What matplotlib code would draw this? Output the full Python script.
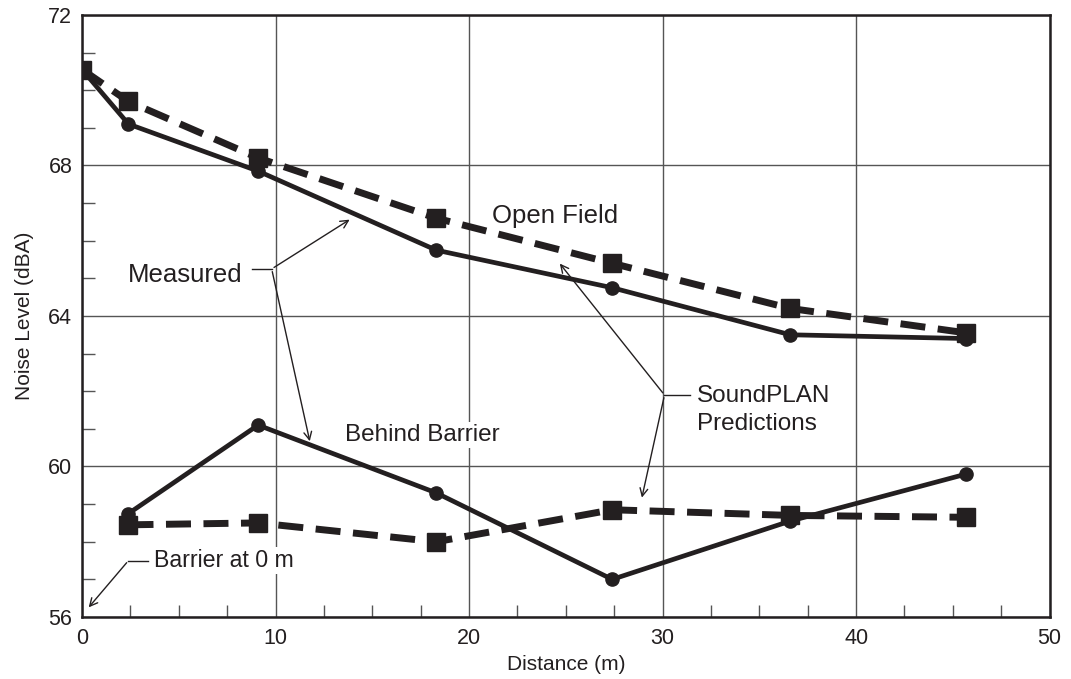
import matplotlib
matplotlib.use("Agg")
import matplotlib.pyplot as plt
from matplotlib.ticker import MultipleLocator

plt.rcParams['font.family'] = ['Liberation Sans', 'DejaVu Sans']

INK = '#231f20'

# Receiver distances (m) and noise levels (dBA)
distance = [0, 2.4, 9.1, 18.3, 27.4, 36.6, 45.7]
open_measured = [70.55, 69.1, 67.85, 65.75, 64.75, 63.5, 63.4]
open_predicted = [70.55, 69.7, 68.2, 66.6, 65.4, 64.2, 63.55]

barrier_distance = [2.4, 9.1, 18.3, 27.4, 36.6, 45.7]
barrier_measured = [58.75, 61.1, 59.3, 57.0, 58.55, 59.8]
barrier_predicted = [58.45, 58.5, 58.0, 58.85, 58.7, 58.65]

fig = plt.figure(figsize=(10.71, 6.79), dpi=100)
ax = fig.add_axes([0.0766, 0.0913, 0.9034, 0.8867])

solid = dict(color=INK, lw=3.4, marker='o', markersize=9.5, zorder=4)
dashed = dict(color=INK, lw=5.0, marker='s', markersize=12.5, zorder=3,
              dashes=(3.6, 1.8))

ax.plot(distance, open_measured, **solid)
ax.plot(distance, open_predicted, **dashed)
ax.plot(barrier_distance, barrier_measured, **solid)
ax.plot(barrier_distance, barrier_predicted, **dashed)

ax.set_xlim(0, 50)
ax.set_ylim(56, 72)
ax.set_xticks([0, 10, 20, 30, 40, 50])
ax.set_yticks([56, 60, 64, 68, 72])
ax.xaxis.set_minor_locator(MultipleLocator(2.5))
ax.yaxis.set_minor_locator(MultipleLocator(1))
ax.tick_params(which='major', length=0, labelsize=15.5, colors=INK)
ax.tick_params(axis='x', which='major', pad=8)
ax.tick_params(axis='y', which='major', pad=7)
ax.tick_params(which='minor', direction='in', length=9, width=1, color='#555555')
ax.grid(True, which='major', color='#555555', lw=1.0, zorder=1)
for s in ax.spines.values():
    s.set_linewidth(1.8)
    s.set_color(INK)

ax.set_xlabel('Distance (m)', fontsize=15, color=INK, labelpad=4)
ax.set_ylabel('Noise Level (dBA)', fontsize=15, color=INK, labelpad=10)

box = dict(facecolor='white', edgecolor='none', pad=1.5)
tkw = dict(color=INK, bbox=box, zorder=6, va='center', ha='left')

ax.text(21.2, 66.65, 'Open Field', fontsize=18.5, **tkw)
ax.text(13.6, 60.84, 'Behind Barrier', fontsize=17.5, **tkw)
ax.text(2.35, 65.1, 'Measured', fontsize=18.5, **tkw)
ax.text(31.8, 61.5, 'SoundPLAN\nPredictions', fontsize=17.5, linespacing=1.4, **tkw)
ax.text(3.7, 57.5, 'Barrier at 0 m', fontsize=16.7, **tkw)

akw = dict(arrowstyle='->', color=INK, lw=1.0, mutation_scale=14)
lkw = dict(color=INK, lw=1.0, zorder=5)

# Measured leader lines
ax.plot([8.8, 9.8], [65.25, 65.25], **lkw)
ax.annotate('', xy=(13.95, 66.6), xytext=(9.8, 65.25), arrowprops=akw, zorder=5)
ax.annotate('', xy=(11.8, 60.6), xytext=(9.8, 65.25), arrowprops=akw, zorder=5)

# SoundPLAN leader lines
ax.plot([30.1, 31.4], [61.9, 61.9], **lkw)
ax.annotate('', xy=(24.6, 65.45), xytext=(30.1, 61.9), arrowprops=akw, zorder=5)
ax.annotate('', xy=(28.9, 59.1), xytext=(30.1, 61.9), arrowprops=akw, zorder=5)

# Barrier location leader
ax.plot([2.4, 3.4], [57.5, 57.5], **lkw)
ax.annotate('', xy=(0.25, 56.2), xytext=(2.4, 57.5), arrowprops=akw, zorder=5)

fig.savefig('out.png', dpi=100)
